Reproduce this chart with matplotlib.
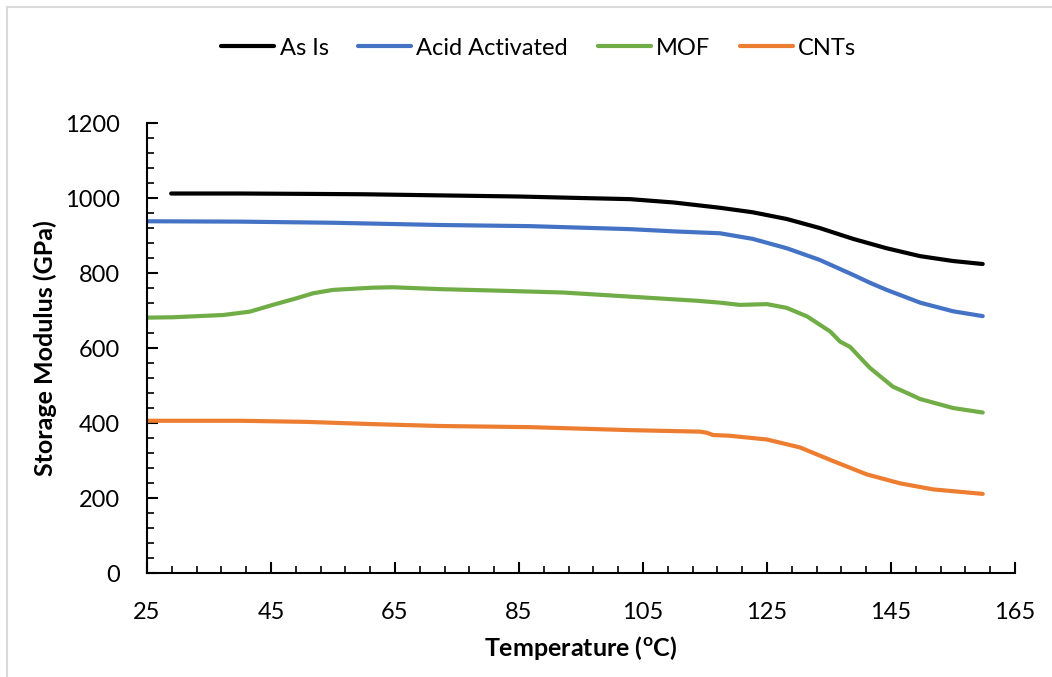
import matplotlib
matplotlib.use("Agg")
import matplotlib.pyplot as plt
import numpy as np
from matplotlib.ticker import FixedLocator
from matplotlib.patches import Rectangle

plt.rcParams['font.family'] = ['Lato', 'DejaVu Sans']
plt.rcParams['mathtext.fontset'] = 'custom'
plt.rcParams['mathtext.rm'] = 'Lato'
plt.rcParams['mathtext.bf'] = 'Lato:bold'

# Storage modulus (GPa) versus temperature (degC)
as_is_T = [28.9, 40, 50.8, 60, 72.3, 85, 95, 102.9, 110, 117.4, 122.7, 128.2,
           133.5, 138.9, 144.3, 149.7, 155.0, 159.8]
as_is_E = [1012, 1012, 1011, 1010, 1007, 1004, 1000, 997, 988, 974, 962, 944,
           920, 891, 866, 845, 832, 824]

acid_T = [25, 40, 55, 72.3, 86.8, 102.9, 110, 117.4, 122.7, 128.2, 133.5,
          138.9, 141.6, 144.3, 149.7, 155.0, 159.8]
acid_E = [938, 937, 934, 928, 925, 917, 911, 906, 891, 866, 835,
          795, 774, 755, 721, 698, 685]

mof_T = [25, 29.2, 37.3, 41.6, 45.3, 49.2, 51.8, 55.0, 61.5, 64.7, 72.3, 81.5,
         92.1, 102.9, 113.7, 117.4, 120.6, 125.0, 128.2, 131.5, 135.2, 136.8,
         138.4, 141.6, 145.3, 147.6, 149.7, 155.0, 159.8]
mof_E = [681, 682, 688, 697, 715, 733, 746, 755, 761, 762, 757, 753,
         748, 737, 726, 721, 715, 717, 707, 684, 644, 617,
         603, 547, 497, 480, 464, 440, 428]

cnt_T = [25, 40, 50.8, 61.5, 72.3, 86.8, 102.9, 114.2, 115.3, 116.3, 119.0,
         125.0, 130.3, 135.6, 141.1, 146.5, 151.8, 159.8]
cnt_E = [406, 406, 403, 397, 392, 389, 381, 377, 374, 368, 366,
         356, 335, 299, 263, 239, 223, 211]

x_ticks = [25, 45, 65, 85, 105, 125, 145, 165]
y_ticks = [0, 200, 400, 600, 800, 1000, 1200]

series = [
    ("As Is", as_is_T, as_is_E, "#000000"),
    ("Acid Activated", acid_T, acid_E, "#4472C4"),
    ("MOF", mof_T, mof_E, "#70AD47"),
    ("CNTs", cnt_T, cnt_E, "#ED7D31"),
]

fig = plt.figure(figsize=(10.52, 6.77), dpi=100)
ax = fig.add_axes([0.1397, 0.1536, 0.8251, 0.6647])

for name, t, e, c in series:
    ax.plot(t, e, color=c, lw=3.0, label=name, solid_capstyle='round')

ax.set_xlim(25, 165)
ax.set_ylim(0, 1200)
ax.xaxis.set_major_locator(FixedLocator(x_ticks))
ax.xaxis.set_minor_locator(FixedLocator(np.arange(25, 165.1, 4)))
ax.yaxis.set_major_locator(FixedLocator(y_ticks))
ax.yaxis.set_minor_locator(FixedLocator(np.arange(0, 1200.1, 40)))

for s in ['top', 'right']:
    ax.spines[s].set_visible(False)
for s in ['left', 'bottom']:
    ax.spines[s].set_linewidth(1.5)

ax.tick_params(which='major', direction='in', length=8, width=1.5,
               labelsize=17)
ax.tick_params(axis='x', which='major', pad=21)
ax.tick_params(axis='y', which='major', pad=19.5)
ax.tick_params(which='minor', direction='in', length=5, width=1.2)

ax.set_xlabel(r'Temperature ($\mathbf{^{o}}$C)', fontsize=18,
              fontweight='bold', va='center')
ax.set_ylabel('Storage Modulus (GPa)', fontsize=18, fontweight='bold',
              va='center')
ax.xaxis.set_label_coords(0.5, -0.1667)
ax.yaxis.set_label_coords(-0.1175, 0.5)

fig.legend(loc='center', bbox_to_anchor=(0.512, 0.929), ncol=4,
           frameon=False, fontsize=17, handlelength=2.25, handletextpad=0.22,
           columnspacing=1.25)

# thin grey frame around the chart area
fig.patches.append(Rectangle((7 / 1052, -0.05), 1.2, 1.05 - 7 / 677,
                             transform=fig.transFigure, fill=False,
                             edgecolor='#D9D9D9', lw=1.5))

fig.savefig('out.png', dpi=100)
